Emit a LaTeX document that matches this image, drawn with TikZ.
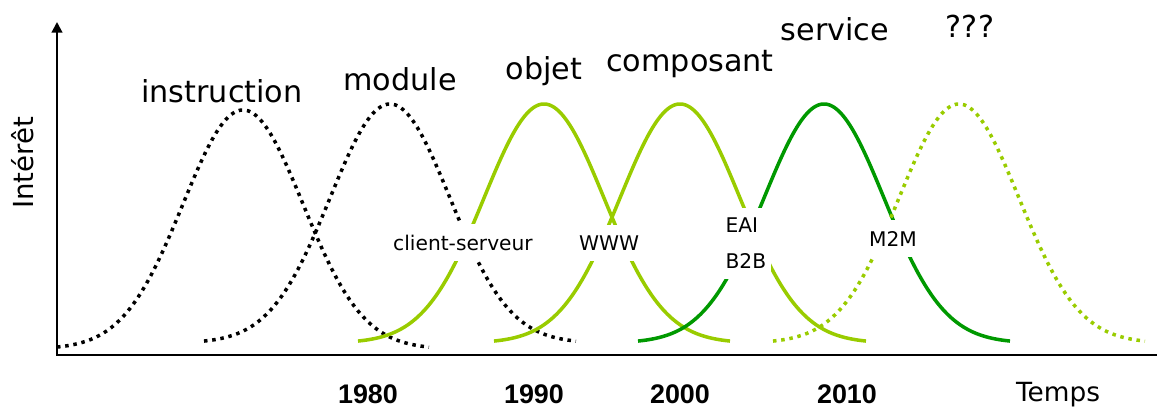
\documentclass[tikz,border=0pt]{standalone}
\usepackage{fontspec}
\setmainfont{DejaVu Sans}
\newfontfamily\yearfont{Liberation Sans}
\usetikzlibrary{arrows.meta}

\definecolor{lightgreen}{RGB}{153,204,0}
\definecolor{darkgreen}{RGB}{0,153,0}

\newcommand\bellhalfwidth{186}
\newcommand\bellsigma{60}
\newcommand\bellheight{239}
\newcommand\bell[3]{
  \draw[#3] plot[domain=#1-\bellhalfwidth:#1+\bellhalfwidth, samples=90, smooth]
    (\x, {#2 - \bellheight*exp(-0.5*((\x-#1)/\bellsigma)^2)}) ;
}

\tikzset{
  axisline/.style={line width=1.2pt},
  dotcurve/.style={line width=2pt, dash pattern=on 2pt off 2.7pt},
  solidcurve/.style={line width=2pt},
  toplabel/.style={anchor=base, font=\fontsize{17.2}{20}\selectfont},
  gaplabel/.style={fill=white, inner xsep=3pt, inner ysep=6pt, align=left,
    font=\fontsize{11.5}{20.4}\selectfont},
  yearlabel/.style={anchor=base, font=\yearfont\bfseries\fontsize{15.3}{18}\selectfont},
}

\begin{document}
\begin{tikzpicture}[x=0.02cm, y=-0.02cm]
  \useasboundingbox (0,0) rectangle (1157,406) ;

  \coordinate (origin) at (57,355) ;
  \coordinate (ytip) at (57,22) ;
  \coordinate (xend) at (1157,355) ;
  \draw[axisline, -{Triangle[width=6pt, length=6pt]}] (xend) -| (ytip) ;

  \bell{243}{349}{black, dotcurve}
  \bell{390}{343}{black, dotcurve}
  \bell{544}{343}{lightgreen, solidcurve}
  \bell{680}{343}{lightgreen, solidcurve}
  \bell{824}{343}{darkgreen, solidcurve}
  \bell{959}{343}{lightgreen, dotcurve}

  \node[toplabel] (instruction) at (222,102) {instruction} ;
  \node[toplabel] (module) at (400,90) {module} ;
  \node[toplabel] (objet) at (544,79) {objet} ;
  \node[toplabel] (composant) at (690,71) {composant} ;
  \node[toplabel] (service) at (835,40) {service} ;
  \node[toplabel] (inconnu) at (970,37) {???} ;

  \node[gaplabel, anchor=base] (clientserveur) at (463,250) {client-serveur} ;
  \node[gaplabel, anchor=base] (www) at (609,250) {WWW} ;
  \node[gaplabel, anchor=west] (eaib2b) at (720,243.5) {EAI\\B2B} ;
  \node[gaplabel, anchor=base] (mtom) at (893,246) {M2M} ;

  \node[rotate=90, anchor=base, font=\fontsize{15.7}{18}\selectfont] (interet) at (33,163) {Intérêt} ;
  \node[anchor=base, font=\fontsize{15}{18}\selectfont] (temps) at (1058,401) {Temps} ;

  \node[yearlabel] (y1980) at (368,403) {1980} ;
  \node[yearlabel] (y1990) at (534,403) {1990} ;
  \node[yearlabel] (y2000) at (680,403) {2000} ;
  \node[yearlabel] (y2010) at (847,403) {2010} ;
\end{tikzpicture}
\end{document}
